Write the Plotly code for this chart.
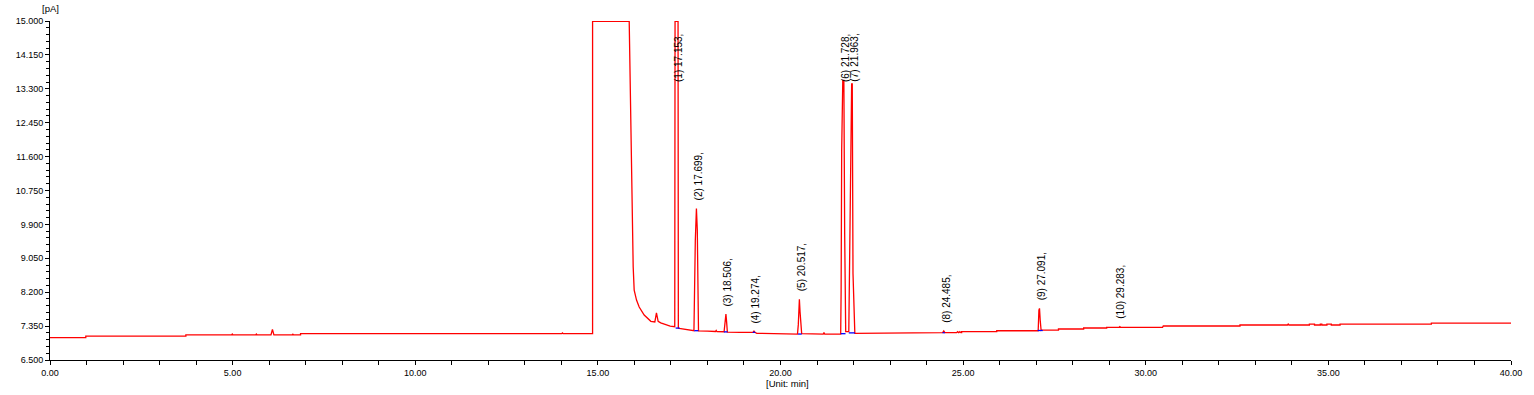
import plotly.graph_objects as go

# ---- chromatogram trace (retention time [min], signal [pA]) ----
time_min = [
    0.00, 0.73, 0.78, 0.83, 0.88, 0.93, 0.98, 0.98,
    3.72, 3.72, 4.97, 4.99, 5.01, 5.63, 5.65, 5.67,
    6.05, 6.09, 6.13, 6.63, 6.65, 6.67, 6.86, 6.86,
    14.01, 14.03, 14.05, 14.855, 14.855, 15.858,
    15.885, 15.904, 15.931, 15.967, 15.994, 16.058, 16.131, 16.268,
    16.45, 16.56, 16.604, 16.65, 16.72, 16.861, 16.98, 17.105,
    17.113, 17.195, 17.203, 17.225, 17.44, 17.63,
    17.668, 17.698, 17.722, 17.755,
    18.0, 18.22, 18.24, 18.26, 18.455, 18.48, 18.506, 18.525, 18.545,
    18.9, 19.25, 19.274, 19.30, 19.35, 20.21, 20.21,
    20.465, 20.487, 20.503, 20.517, 20.535, 20.557, 20.58,
    21.17, 21.19, 21.21,
    21.648, 21.66, 21.675, 21.705, 21.735, 21.757, 21.785,
    21.87, 21.89, 21.92, 21.948, 21.965, 21.985, 22.035,
    22.6, 22.6, 24.44, 24.47, 24.50,
    24.82, 24.85, 24.88, 24.91, 24.94, 24.96, 24.96,
    25.92, 25.92, 27.055, 27.075, 27.091, 27.11, 27.135, 27.15,
    27.61, 27.61, 28.30, 28.30, 28.93, 28.93,
    29.27, 29.29, 29.31, 30.30, 30.34, 30.38, 30.42, 30.46, 30.48,
    32.58, 32.58, 33.88, 33.90, 33.92,
    34.48, 34.48, 34.62, 34.62, 34.78, 34.78, 34.82, 34.82, 34.96, 34.96, 35.08, 35.08, 35.32, 35.32,
    37.82, 37.82, 40.00,
]
signal_pA = [
    7.061, 7.061, 7.075, 7.061, 7.075, 7.061, 7.061, 7.099,
    7.099, 7.128, 7.128, 7.150, 7.128, 7.128, 7.150, 7.128,
    7.128, 7.270, 7.128, 7.128, 7.148, 7.128, 7.128, 7.159,
    7.159, 7.178, 7.159, 7.159, 14.99, 14.99,
    13.589, 11.761, 10.333, 8.830, 8.254, 8.003, 7.828, 7.627,
    7.470, 7.455, 7.680, 7.470, 7.430, 7.377, 7.352, 7.334,
    14.99, 14.99, 7.300, 7.294, 7.269, 7.235,
    9.500, 10.300, 9.760, 7.230,
    7.226, 7.215, 7.240, 7.209, 7.208, 7.450, 7.650, 7.450, 7.201,
    7.194, 7.194, 7.226, 7.194, 7.169, 7.169, 7.151,
    7.151, 7.380, 7.710, 8.020, 7.710, 7.420, 7.160,
    7.151, 7.185, 7.151,
    7.151, 8.250, 11.760, 13.510, 13.510, 9.670, 7.210,
    7.210, 8.600, 12.000, 13.420, 13.420, 8.670, 7.170,
    7.169, 7.184, 7.184, 7.226, 7.184,
    7.184, 7.210, 7.184, 7.210, 7.184, 7.184, 7.209,
    7.209, 7.234, 7.234, 7.750, 7.795, 7.500, 7.245, 7.251,
    7.251, 7.277, 7.277, 7.302, 7.302, 7.319,
    7.319, 7.335, 7.319, 7.319, 7.335, 7.327, 7.335, 7.319, 7.352,
    7.352, 7.377, 7.377, 7.400, 7.377,
    7.377, 7.402, 7.402, 7.377, 7.377, 7.402, 7.402, 7.377, 7.377, 7.402, 7.402, 7.377, 7.377, 7.402,
    7.402, 7.427, 7.427,
]

# ---- peak table ----
peak_no = [1, 2, 3, 4, 5, 6, 7, 8, 9, 10]
peak_rt = [17.153, 17.699, 18.506, 19.274, 20.517, 21.728, 21.963, 24.485, 27.091, 29.283]
peak_apex = [15.0, 10.30, 7.65, 7.226, 8.02, 13.51, 13.42, 7.226, 7.795, 7.335]

# ---- integration baselines (blue) ----
int_start = [17.13, 17.64, 18.45, 19.24, 20.48, 21.65, 21.87, 24.44, 27.04]
int_end = [17.24, 17.75, 18.55, 19.31, 20.58, 21.78, 22.04, 24.50, 27.18]
int_base = [7.300, 7.235, 7.205, 7.194, 7.151, 7.160, 7.180, 7.184, 7.240]

x_ticks = [0, 5, 10, 15, 20, 25, 30, 35, 40]
y_min, y_max, y_step = 6.5, 15.0, 0.85

FONT = "Liberation Sans, Arial, sans-serif"

fig = go.Figure()
fig.add_trace(go.Scatter(x=time_min, y=signal_pA, mode="lines",
                         line=dict(color="#ff0000", width=1.3), hoverinfo="skip"))

bx, by = [], []
for s, e, b in zip(int_start, int_end, int_base):
    bx += [s, e, None]
    by += [b, b, None]
fig.add_trace(go.Scatter(x=bx, y=by, mode="lines",
                         line=dict(color="#0000ff", width=1.3), hoverinfo="skip"))

for n, rt, ap in zip(peak_no, peak_rt, peak_apex):
    txt = f"({n}) {rt:.3f},"
    if ap > 12.0:
        fig.add_annotation(x=rt, y=y_max, text=txt, textangle=-90, showarrow=False,
                           xanchor="center", yanchor="top", yshift=-11, xshift=1.5,
                           font=dict(family=FONT, size=10, color="#000000"))
    else:
        fig.add_annotation(x=rt, y=ap, text=txt, textangle=-90, showarrow=False,
                           xanchor="center", yanchor="bottom", yshift=6, xshift=1.5,
                           font=dict(family=FONT, size=10, color="#000000"))

fig.add_annotation(xref="paper", yref="paper", x=0.0, y=1.0, yshift=13, text="[pA]",
                   showarrow=False, xanchor="center", yanchor="middle",
                   font=dict(family=FONT, size=9.5, color="#000000"))
fig.add_annotation(xref="paper", yref="paper", x=0.505, y=0.0, yshift=-23, text="[Unit: min]",
                   showarrow=False, xanchor="center", yanchor="middle",
                   font=dict(family=FONT, size=9.5, color="#000000"))

fig.update_layout(
    width=1534, height=395,
    margin=dict(l=50, r=21, t=21, b=35),
    paper_bgcolor="white", plot_bgcolor="white",
    showlegend=False,
    xaxis=dict(range=[0, 40], tickvals=x_ticks, ticktext=[f"{v:.2f}" for v in x_ticks],
               ticks="outside", ticklen=4, tickwidth=1, tickcolor="black",
               showline=True, linecolor="black", linewidth=1,
               showgrid=False, zeroline=False,
               tickfont=dict(family=FONT, size=9, color="#000000"),
               minor=dict(dtick=1, tick0=0, ticks="outside", ticklen=4, tickcolor="black", showgrid=False)),
    yaxis=dict(range=[y_min, y_max], tick0=y_min, dtick=y_step, tickformat=".3f",
               ticks="outside", ticklen=4, tickwidth=1, tickcolor="black",
               showline=True, linecolor="black", linewidth=1,
               showgrid=False, zeroline=False,
               tickfont=dict(family=FONT, size=9, color="#000000"),
               minor=dict(dtick=y_step / 5, tick0=y_min, ticks="outside", ticklen=3, tickcolor="black", showgrid=False)),
)

fig.write_html("out.html", config={"displayModeBar": False},
               post_script="document.body.style.margin='0';document.body.style.overflow='hidden';")
